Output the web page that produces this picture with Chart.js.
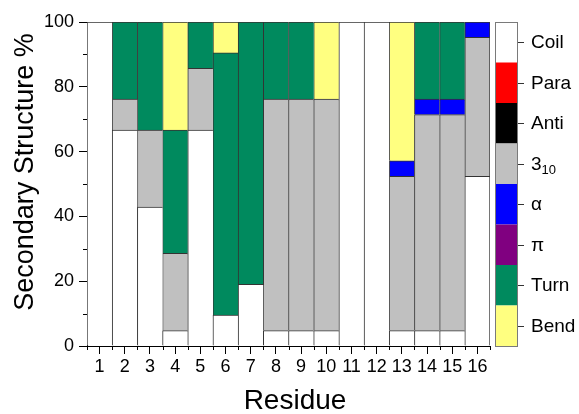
<!DOCTYPE html>
<html>
<head>
<meta charset="utf-8">
<script src="https://cdn.jsdelivr.net/npm/chart.js@4/dist/chart.umd.min.js"></script>
<style>
  html, body { margin: 0; padding: 0; background: #fff; }
  #wrap { width: 579px; height: 414px; }
</style>
</head>
<body>
<div id="wrap"><canvas id="c" width="579" height="414"></canvas></div>
<script>
// Residue numbers along the x axis
const residues = ['1','2','3','4','5','6','7','8','9','10','11','12','13','14','15','16'];

// Secondary structure share (%) per residue, one array per class
const coil  = [100, 66.67, 42.86, 4.76, 66.67, 9.52, 19.05, 4.76, 4.76, 4.76, 100, 100, 4.76, 4.76, 4.76, 52.38];
const para  = [0, 0, 0, 0, 0, 0, 0, 0, 0, 0, 0, 0, 0, 0, 0, 0];
const anti  = [0, 0, 0, 0, 0, 0, 0, 0, 0, 0, 0, 0, 0, 0, 0, 0];
const h310  = [0, 9.52, 23.81, 23.81, 19.05, 0, 0, 71.43, 71.43, 71.43, 0, 0, 47.62, 66.67, 66.67, 42.86];
const alpha = [0, 0, 0, 0, 0, 0, 0, 0, 0, 0, 0, 0, 4.76, 4.76, 4.76, 4.76];
const pi    = [0, 0, 0, 0, 0, 0, 0, 0, 0, 0, 0, 0, 0, 0, 0, 0];
const turn  = [0, 23.81, 33.33, 38.10, 14.29, 80.95, 80.95, 23.81, 23.81, 0, 0, 0, 0, 23.81, 23.81, 0];
const bend  = [0, 0, 0, 33.33, 0, 9.52, 0, 0, 0, 23.81, 0, 0, 42.86, 0, 0, 0];

// Y axis tick values
const yTicks = [0, 20, 40, 60, 80, 100];

const classNames = ['Coil', 'Para', 'Anti', '3_10', 'α', 'π', 'Turn', 'Bend'];
const classColors = ['#FFFFFF', '#FF0000', '#000000', '#C0C0C0', '#0000FF', '#800080', '#008A5E', '#FFFF80'];
const classData = [coil, para, anti, h310, alpha, pi, turn, bend];

const FONT = '"Liberation Sans", Arial, sans-serif';

const datasets = classNames.map((name, i) => ({
  label: name,
  data: classData[i],
  backgroundColor: classColors[i],
  borderColor: '#333333',
  borderSkipped: false,
  borderWidth: (ctx) => ({
    top: 1,
    left: 1,
    bottom: 0,
    right: ctx.dataIndex === residues.length - 1 ? 1 : 0
  }),
  barPercentage: 1,
  categoryPercentage: 1
}));

// Minor ticks, axis titles and the colour key on the right
const decorations = {
  id: 'decorations',
  afterDraw(chart) {
    const ctx = chart.ctx;
    const area = chart.chartArea;
    const ys = chart.scales.y;
    ctx.save();
    ctx.strokeStyle = '#000';
    ctx.lineWidth = 1;

    // minor y ticks between labelled ones
    for (let i = 0; i < yTicks.length - 1; i++) {
      const v = (yTicks[i] + yTicks[i + 1]) / 2;
      const py = Math.round(ys.getPixelForValue(v)) + 0.5;
      ctx.beginPath();
      ctx.moveTo(area.left - 4, py);
      ctx.lineTo(area.left, py);
      ctx.stroke();
    }
    // minor x ticks at the bar edges
    const w = (area.right - area.left) / residues.length;
    for (let i = 0; i <= residues.length; i++) {
      const px = Math.round(area.left + i * w) + 0.5;
      ctx.beginPath();
      ctx.moveTo(px, area.bottom);
      ctx.lineTo(px, area.bottom + 4);
      ctx.stroke();
    }

    // axis titles
    ctx.fillStyle = '#000';
    ctx.textAlign = 'center';
    ctx.textBaseline = 'alphabetic';
    ctx.font = '28px ' + FONT;
    ctx.fillText('Residue', 295, 409);
    ctx.save();
    ctx.translate(33, 172);
    ctx.rotate(-Math.PI / 2);
    ctx.font = '27px ' + FONT;
    ctx.fillText('Secondary Structure %', 0, 0);
    ctx.restore();

    // colour key
    const kx0 = area.right + 5;
    const kx1 = kx0 + 22;
    const segH = (area.bottom - area.top) / classNames.length;
    classNames.forEach((name, i) => {
      const y0 = area.top + i * segH;
      ctx.fillStyle = classColors[i];
      ctx.fillRect(kx0, y0, kx1 - kx0, segH);
    });
    ctx.strokeStyle = '#7a7a7a';
    ctx.strokeRect(kx0 + 0.5, Math.round(area.top) + 0.5, kx1 - kx0, Math.round(area.bottom - area.top));
    ctx.strokeStyle = '#333';
    ctx.fillStyle = '#000';
    ctx.textAlign = 'left';
    ctx.textBaseline = 'middle';
    classNames.forEach((name, i) => {
      const yc = Math.round(area.top + (i + 0.5) * segH) + 0.5;
      ctx.beginPath();
      ctx.moveTo(kx1 + 1, yc);
      ctx.lineTo(kx1 + 7, yc);
      ctx.stroke();
      const tx = kx1 + 14;
      ctx.font = '19px ' + FONT;
      if (name === '3_10') {
        ctx.fillText('3', tx, yc);
        const w3 = ctx.measureText('3').width;
        ctx.font = '13px ' + FONT;
        ctx.fillText('10', tx + w3, yc + 6);
      } else {
        ctx.fillText(name, tx, yc);
      }
    });
    ctx.restore();
  }
};

new Chart(document.getElementById('c'), {
  type: 'bar',
  data: { labels: residues, datasets },
  plugins: [decorations],
  options: {
    responsive: false,
    animation: false,
    events: [],
    layout: { padding: { top: 22, right: 89, bottom: 0, left: 0 } },
    plugins: { legend: { display: false }, tooltip: { enabled: false } },
    scales: {
      x: {
        stacked: true,
        grid: { display: true, drawOnChartArea: false, offset: false, tickLength: 8, color: '#000' },
        border: { display: true, color: '#000', width: 1 },
        ticks: { color: '#000', font: { family: FONT, size: 18 }, padding: 2, maxRotation: 0, autoSkip: false },
        afterFit(s) { s.height = 68; }
      },
      y: {
        stacked: true,
        min: 0,
        max: 100,
        afterBuildTicks(s) { s.ticks = yTicks.map(v => ({ value: v })); },
        grid: { display: true, drawOnChartArea: false, tickLength: 8, color: '#000' },
        border: { display: true, color: '#000', width: 1 },
        ticks: { color: '#000', font: { family: FONT, size: 18 }, padding: 5 },
        afterFit(s) { s.width = 87; }
      }
    }
  }
});
</script>
</body>
</html>
